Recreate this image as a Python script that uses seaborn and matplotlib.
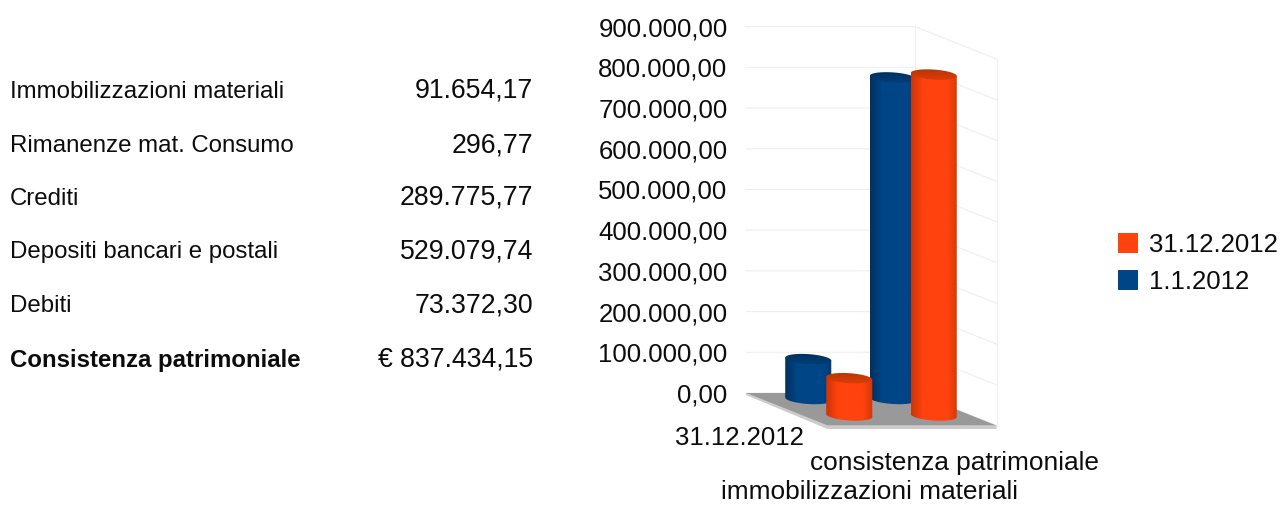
import numpy as np
import pandas as pd
import matplotlib
matplotlib.use("Agg")
import matplotlib.pyplot as plt
from matplotlib.patches import Polygon, Patch, PathPatch
from matplotlib.path import Path
from matplotlib.colors import LinearSegmentedColormap
import seaborn as sns

# ---- data ----
table_labels = ["Immobilizzazioni materiali", "Rimanenze mat. Consumo", "Crediti",
                "Depositi bancari e postali", "Debiti", "Consistenza patrimoniale"]
table_values = ["91.654,17", "296,77", "289.775,77", "529.079,74", "73.372,30", "€ 837.434,15"]
categories = ["immobilizzazioni materiali", "consistenza patrimoniale"]
series_names = ["1.1.2012", "31.12.2012"]
values_start = [98000, 790000]
values_end = [91654.17, 837434.15]
y_ticks = [0, 100000, 200000, 300000, 400000, 500000, 600000, 700000, 800000, 900000]

W, H = 1280, 505
sns.set_theme(style="white")
plt.rcParams["font.family"] = ["Liberation Sans", "DejaVu Sans"]
plt.rcParams["text.color"] = "#0c0c0c"

fig = plt.figure(figsize=(W / 100, H / 100), dpi=100)
ax = fig.add_axes([746 / W, (H - 393) / H, (915 - 746) / W, (393 - 26.6) / H])

df = pd.DataFrame({
    "cat": categories * 2,
    "val": values_start + values_end,
    "ser": [series_names[0]] * 2 + [series_names[1]] * 2,
})
colors = {series_names[0]: "#004586", series_names[1]: "#ff420e"}
sns.barplot(data=df, x="cat", y="val", hue="ser", hue_order=series_names, palette=colors,
            dodge=False, width=0.545, saturation=1, legend=False, ax=ax, zorder=3,
            edgecolor="none", linewidth=0)

ax.set_xlim(-0.5, 1.5)
ax.set_ylim(0, 900000)
PX_Y = 900000 / 366.4          # value units per pixel
PX_X = 2 / 169                 # category units per pixel

# chart depth, expressed in data units
depth_x, depth_y = 81.5 * PX_X, -32.5 * PX_Y
row_shift = {series_names[0]: (20 * PX_X, -6 * PX_Y), series_names[1]: (61 * PX_X, -22.5 * PX_Y)}
ell_h = 10 * PX_Y
tilt = 1.5 * PX_Y

# walls
grid_c = "#efefef"
for v in y_ticks:
    ax.plot([-0.5, 1.5, 1.5 + depth_x], [v, v, v + depth_y], color=grid_c, lw=0.8,
            clip_on=False, zorder=1)
ax.plot([1.5, 1.5], [0, 900000], color=grid_c, lw=0.8, zorder=1, clip_on=False)
ax.plot([1.5 + depth_x] * 2, [depth_y, 900000 + depth_y], color=grid_c, lw=0.8, zorder=1, clip_on=False)

# floor
floor = [(-0.5, 0), (1.5, 0), (1.5 + depth_x, depth_y), (-0.5 + depth_x, depth_y)]
strip = [(-0.5, 0), (-0.5 + depth_x, depth_y), (1.5 + depth_x, depth_y),
         (1.5 + depth_x, depth_y - 3.5 * PX_Y), (-0.5 + depth_x, depth_y - 3.5 * PX_Y), (-0.5, -2 * PX_Y)]
ax.add_patch(Polygon(strip, closed=True, fc="#cccccc", ec="none", clip_on=False, zorder=1.5))
ax.add_patch(Polygon(floor, closed=True, fc="#999999", ec="none", clip_on=False, zorder=2))

shades = {
    series_names[0]: ([(0, "#00315f"), (0.25, "#004586"), (0.82, "#004586"), (1, "#003a70")],
                      ["#004080", "#00386c", "#002a55"]),
    series_names[1]: ([(0, "#cf3506"), (0.25, "#ff420e"), (0.8, "#ff420e"), (1, "#cf3a08")],
                      ["#e83c08", "#c93a08", "#a83200"]),
}
ramp = np.linspace(0, 1, 64)[None, :]
vramp = np.linspace(1, 0, 32)[:, None]
t_top = np.linspace(0, 2 * np.pi, 80)
t_low = np.linspace(np.pi, 2 * np.pi, 40)

# cylinders: the seaborn bars are moved along the depth axis and shaded
for k, (name, cont) in enumerate(zip(series_names, ax.containers)):
    sx, sy = row_shift[name]
    cmap = LinearSegmentedColormap.from_list(name, shades[name][0])
    cmap_top = LinearSegmentedColormap.from_list(name + "_top", shades[name][1])
    for j, bar in enumerate(cont.patches):
        x0 = bar.get_x() + sx
        w = bar.get_width()
        x1 = x0 + w
        xc = (x0 + x1) / 2
        base = sy
        top = sy + bar.get_height()
        z = 3 + k + j * 0.1
        bar.set_x(x0)
        bar.set_y(base)
        bar.set_zorder(z)
        bar.set_clip_on(False)
        bar.set_facecolor("none")
        # silhouette: body + lower half of the tilted base ellipse
        xs = xc + w / 2 * np.cos(t_low)
        ys = base + ell_h / 2 * np.sin(t_low) + tilt * np.cos(t_low) * -1
        verts = np.vstack([[x0, top + tilt], np.c_[xs, ys], [x1, top - tilt], [x0, top + tilt]])
        clip = PathPatch(Path(verts), transform=ax.transData, fc="none", ec="none")
        ax.add_patch(clip)
        clip.set_clip_on(False)
        im = ax.imshow(ramp, extent=(x0, x1, base - ell_h, top + 2 * tilt), cmap=cmap, vmin=0, vmax=1,
                       aspect="auto", interpolation="bilinear", zorder=z + 0.01)
        im.set_clip_box(fig.bbox)
        im.set_clip_path(clip)
        # tilted top ellipse with a vertical shade
        ex = xc + w / 2 * np.cos(t_top)
        ey = top + ell_h / 2 * np.sin(t_top) - tilt * np.cos(t_top)
        eclip = PathPatch(Path(np.c_[ex, ey]), transform=ax.transData, fc="none", ec="none")
        ax.add_patch(eclip)
        eclip.set_clip_on(False)
        im2 = ax.imshow(vramp, extent=(x0, x1, top - ell_h, top + ell_h), cmap=cmap_top, vmin=0, vmax=1,
                        aspect="auto", interpolation="bilinear", zorder=z + 0.02)
        im2.set_clip_box(fig.bbox)
        im2.set_clip_path(eclip)

ax.set_xlim(-0.5, 1.5)
ax.set_ylim(0, 900000)

# axes dressing
sns.despine(ax=ax, left=True, bottom=True, right=True, top=True)
ax.set_xlabel("")
ax.set_ylabel("")
ax.set_xticks([])
ax.set_yticks(y_ticks)
ax.set_yticklabels([f"{v:,.2f}".replace(",", "X").replace(".", ",").replace("X", ".") for v in y_ticks],
                   fontsize=18.5, color="#0c0c0c")
ax.tick_params(axis="y", length=0, pad=13.3)

# category and row labels
label_y = [-99 * PX_Y, -70 * PX_Y]
for i, (c, ly) in enumerate(zip(categories, label_y)):
    ax.text(i + depth_x, ly, c, ha="center", va="center", fontsize=18.9, clip_on=False)
ax.text(-0.5 + depth_x - 24 * PX_X, -45 * PX_Y, series_names[1], ha="right", va="center",
        fontsize=18.5, clip_on=False)

# left table
rows_y = [90, 144, 197, 250, 304, 359]
for i, (lab, val, yy) in enumerate(zip(table_labels, table_values, rows_y)):
    bold = i == len(table_labels) - 1
    fig.text(10 / W, 1 - (yy + 2) / H, lab, ha="left", va="center", fontsize=17.25,
             fontweight="bold" if bold else "normal")
    fig.text(533 / W, 1 - (yy + 1) / H, val, ha="right", va="center", fontsize=19.2)

# legend
handles = [Patch(fc=colors[n], ec="none", label=n) for n in reversed(series_names)]
fig.legend(handles=handles, loc="center left", bbox_to_anchor=(1118 / W, 1 - 263.5 / H),
           frameon=False, fontsize=18.5, handlelength=0.79, handleheight=0.79,
           handletextpad=0.42, labelspacing=0.5, borderpad=0, borderaxespad=0)

fig.savefig("out.png", dpi=100)
